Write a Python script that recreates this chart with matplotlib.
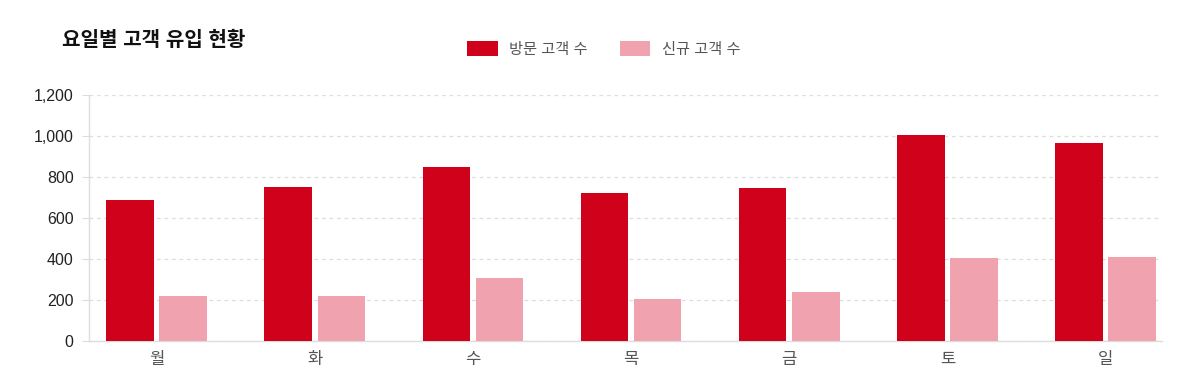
import matplotlib
matplotlib.use("Agg")
import matplotlib.pyplot as plt
import numpy as np
from matplotlib.patches import Patch

plt.rcParams['font.family'] = ['Liberation Sans', 'Noto Sans CJK KR', 'DejaVu Sans']

days = ['월', '화', '수', '목', '금', '토', '일']
visitors = [690, 750, 850, 720, 745, 1005, 965]
new_customers = [220, 220, 305, 205, 240, 405, 410]
series_names = ['방문 고객 수', '신규 고객 수']
title = '요일별 고객 유입 현황'
yticks = [0, 200, 400, 600, 800, 1000, 1200]

c_visit = '#D0021B'
c_new = '#F0A3AE'

fig = plt.figure(figsize=(11.92, 3.92), dpi=100)
ax = fig.add_axes([89/1192, 1-341/392, (1161.7-89)/1192, (341-95)/392])

x = np.arange(len(days))
w = 0.30
off = 0.168
ax.bar(x - off, visitors, width=w, color=c_visit, zorder=3)
ax.bar(x + off, new_customers, width=w, color=c_new, zorder=3)

ax.set_xlim(-0.427, 6.355)
ax.set_ylim(0, 1200)
ax.set_yticks(yticks)
ax.set_yticklabels([f'{v:,}' for v in yticks])
ax.set_xticks(x)
ax.set_xticklabels(days)

ax.grid(axis='y', color='#dddddd', linestyle=(0, (3, 3)), linewidth=0.9, zorder=0)
ax.grid(axis='x', visible=False)
for s in ['top', 'right']:
    ax.spines[s].set_visible(False)
for s in ['left', 'bottom']:
    ax.spines[s].set_color('#dddddd')
    ax.spines[s].set_linewidth(1.0)

ax.tick_params(axis='y', length=5, color='#dddddd', labelsize=11.5, labelcolor='#222222', pad=6)
ax.tick_params(axis='x', length=0, labelsize=12, labelcolor='#555555', pad=8)

fig.text(62/1192, 1-40/392, title, fontsize=14.5, fontweight='bold', color='#111111',
         va='center', ha='left')

handles = [Patch(facecolor=c_visit, edgecolor='none'), Patch(facecolor=c_new, edgecolor='none')]
fig.legend(handles, series_names, loc='center', bbox_to_anchor=(603.5/1192, 1-49/392),
           ncol=2, frameon=False, fontsize=11, labelcolor='#555555',
           handlelength=2.0, handleheight=1.05, handletextpad=0.75, columnspacing=2.1)

fig.savefig('out.png', dpi=100, facecolor='white')
